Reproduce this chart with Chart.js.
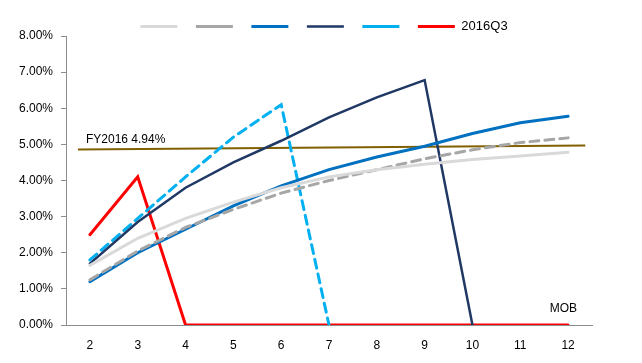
<!DOCTYPE html>
<html>
<head>
<meta charset="utf-8">
<script src="https://cdn.jsdelivr.net/npm/chart.js@4.4.1/dist/chart.umd.min.js"></script>
<style>
  html, body { margin: 0; padding: 0; background: #fff; }
  .wrap { width: 642px; height: 363px; }
</style>
</head>
<body>
<div class="wrap"><canvas id="c" width="642" height="363"></canvas></div>
<script>
// MOB loss-rate curves by vintage, FY2016 reference line

const mob = ['2', '3', '4', '5', '6', '7', '8', '9', '10', '11', '12']
const yTicks = [0, 1, 2, 3, 4, 5, 6, 7, 8]

const seriesLight = [1.65, 2.4, 2.95, 3.4, 3.8, 4.1, 4.3, 4.45, 4.58, 4.68, 4.78]
const seriesGrayDash = [1.25, 2.05, 2.7, 3.2, 3.65, 4.0, 4.3, 4.6, 4.85, 5.05, 5.18]
const seriesBlue = [1.2, 2.0, 2.65, 3.3, 3.85, 4.3, 4.65, 4.95, 5.3, 5.6, 5.78]
const seriesNavy = [1.7, 2.85, 3.8, 4.5, 5.1, 5.75, 6.3, 6.78, 0, null, null]
const seriesCyanDash = [1.8, 2.95, 4.1, 5.2, 6.1, 0, null, null, null, null, null]
const series2016Q3 = [2.5, 4.1, 0, 0, 0, 0, 0, 0, 0, 0, 0]

// FY2016 average line, drawn a bit wider than the category range
const fyLabel = 'FY2016 4.94%'
const fyX = [1.75, 12.36]
const fyY = [4.86, 4.97]

const font = 'Liberation Sans, Arial, sans-serif'
const axisColor = '#8c8c8c'

// ── Text annotations + legend nudge ─────────────────────────
const extras = {
  id: 'extras',
  afterLayout(chart) {
    const lg = chart.legend
    const dx = 28
    const dy = 7
    lg.left += dx
    lg.right += dx
    lg.top += dy
    lg.bottom += dy
  },
  afterDatasetsDraw(chart) {
    const { ctx, scales } = chart
    ctx.save()
    ctx.fillStyle = '#000'
    ctx.font = `12px ${font}`
    ctx.textBaseline = 'alphabetic'
    ctx.textAlign = 'left'
    ctx.fillText(fyLabel, scales.x2.getPixelForValue(fyX[0]) + 8, scales.y.getPixelForValue(fyY[0]) - 6)
    ctx.textAlign = 'right'
    ctx.fillText('MOB', scales.x.getPixelForValue(mob.length - 1) + 9, scales.y.getPixelForValue(0) - 13)
    ctx.restore()
  },
}

function line(label, data, color, width, dash) {
  return {
    label,
    data,
    borderColor: color,
    backgroundColor: color,
    borderWidth: width,
    borderDash: dash || [],
    borderCapStyle: 'round',
    pointRadius: 0,
    tension: 0,
    spanGaps: false,
  }
}

new Chart(document.getElementById('c'), {
  type: 'line',
  data: {
    labels: mob,
    datasets: [
      line('', seriesLight, '#d9d9d9', 3),
      line('', seriesGrayDash, '#a6a6a6', 3, [9, 6]),
      line('', seriesBlue, '#0070c0', 3),
      line('', seriesNavy, '#1f3864', 2.5),
      line('', seriesCyanDash, '#00b0f0', 3, [9, 6]),
      line('2016Q3', series2016Q3, '#ff0000', 3),
      {
        label: fyLabel,
        data: fyX.map((x, i) => ({ x, y: fyY[i] })),
        xAxisID: 'x2',
        borderColor: '#806000',
        borderWidth: 2,
        pointRadius: 0,
      },
    ],
  },
  plugins: [extras],
  options: {
    responsive: false,
    animation: false,
    layout: { padding: { top: 1, right: 50, bottom: 0, left: 0 } },
    plugins: {
      tooltip: { enabled: false },
      legend: {
        position: 'top',
        labels: {
          filter: (item) => item.datasetIndex < 6,
          usePointStyle: true,
          pointStyle: 'line',
          pointStyleWidth: 37,
          padding: 12,
          color: '#000',
          font: { family: font, size: 13 },
        },
      },
    },
    scales: {
      x: {
        type: 'category',
        offset: true,
        afterFit: (s) => { s.height = 38 },
        grid: { display: false, drawTicks: false },
        border: { display: true, color: axisColor, width: 1 },
        ticks: { color: '#000', padding: 13, font: { family: font, size: 12 } },
      },
      x2: {
        type: 'linear',
        min: 1.5,
        max: 12.5,
        display: false,
      },
      y: {
        min: 0,
        max: 8,
        afterBuildTicks: (s) => { s.ticks = yTicks.map((v) => ({ value: v })) },
        afterFit: (s) => { s.width = 66 },
        grid: { drawOnChartArea: false, drawTicks: true, tickLength: 5, color: axisColor },
        border: { display: true, color: axisColor, width: 1 },
        ticks: {
          color: '#000',
          padding: 8,
          font: { family: font, size: 12 },
          callback: (v) => `${v.toFixed(2)}%`,
        },
      },
    },
  },
})
</script>
</body>
</html>
